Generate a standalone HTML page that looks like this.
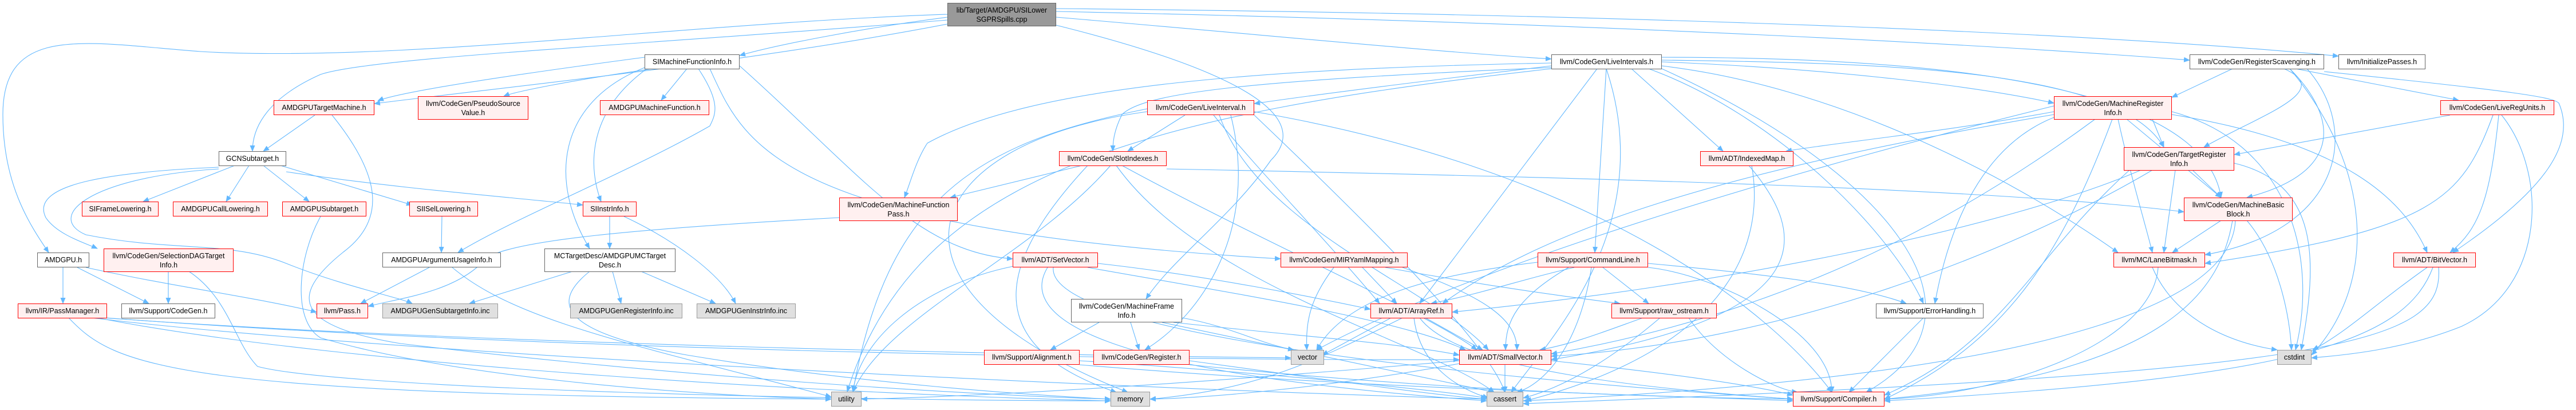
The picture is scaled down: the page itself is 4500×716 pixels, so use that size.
<!DOCTYPE html>
<html><head><meta charset="utf-8"><style>
body{margin:0;background:#fff;}
#c{position:relative;width:4500px;height:716px;overflow:hidden;background:#fff;font-family:"Liberation Sans",sans-serif;}
svg{position:absolute;left:0;top:0;}
.n{position:absolute;box-sizing:border-box;display:flex;align-items:center;justify-content:center;text-align:center;font-size:12.5px;line-height:16px;color:#000;white-space:nowrap;}
.r{border:1.5px solid #f00;background:#fff0f0;}
.w{border:1.5px solid #666;background:#fff;}
.g{border:1.5px solid #999;background:#e0e0e0;}
.m{border:1.5px solid #666;background:#999;}
</style></head><body><div id="c">
<svg width="4500" height="716" viewBox="0 0 4500 716">
<defs><marker id="a" markerWidth="11" markerHeight="9" refX="10" refY="4.5" orient="auto" markerUnits="userSpaceOnUse"><path d="M0,0 L11,4.5 L0,9z" fill="#63b8ff"/></marker></defs>
<g fill="none" stroke="#63b8ff" stroke-width="1.1" marker-end="url(#a)">
<path d="M1845,30 C2200,60 2500,90 2710,103"/>
<path d="M1845,20 C2800,40 3500,80 3825,105"/>
<path d="M1845,15 C2900,25 3700,60 4085,98"/>
<path d="M1845,44 C2150,120 2300,200 2220,280 C2150,380 2050,450 2002,522"/>
<path d="M1655,30 C1500,50 1350,80 1292,97"/>
<path d="M1655,35 C1100,80 650,100 560,130 C470,170 441,220 441,264"/>
<path d="M1655,25 C1200,40 700,110 350,90 C150,75 5,40 5,200 C5,320 50,390 85,441"/>
<path d="M1655,42 C1300,110 900,150 654,181"/>
<path d="M1126,100 C900,130 700,160 660,176"/>
<path d="M1140,120 C1000,140 900,160 880,168"/>
<path d="M1200,120 L1155,175"/>
<path d="M1130,120 C1020,200 1030,300 1050,352"/>
<path d="M1126,118 C970,180 960,320 1030,434"/>
<path d="M1220,120 C1260,180 1250,200 1240,220 C1100,300 900,380 800,441"/>
<path d="M1292,115 C1500,300 1600,440 1769,452"/>
<path d="M1240,120 C1300,250 1350,400 2237,452"/>
<path d="M410,289 L250,352"/>
<path d="M435,289 L395,352"/>
<path d="M460,289 L540,352"/>
<path d="M490,289 L720,358"/>
<path d="M500,300 C700,330 900,345 1018,358"/>
<path d="M382,292 C200,300 50,320 80,380 C100,410 150,425 170,434"/>
<path d="M382,295 C150,310 80,380 150,410 C300,440 400,420 500,460 C600,500 700,520 720,530"/>
<path d="M550,201 L460,264"/>
<path d="M580,201 C660,300 680,380 600,440 C500,520 520,570 700,600 C1200,660 1700,690 1940,697"/>
<path d="M560,378 C520,450 510,560 560,590 C800,660 1200,690 1452,697"/>
<path d="M110,467 L110,530"/>
<path d="M135,467 L260,530"/>
<path d="M150,467 C300,500 450,520 553,545"/>
<path d="M294,474 L294,530"/>
<path d="M330,474 C400,520 410,600 450,640 C600,680 1500,700 1940,700"/>
<path d="M772,378 L771,441"/>
<path d="M750,467 L630,530"/>
<path d="M790,467 C900,560 1100,600 1452,693"/>
<path d="M1065,378 L1065,434"/>
<path d="M1090,378 C1180,420 1260,480 1285,530"/>
<path d="M1466,380 C1100,400 900,420 850,450 C800,510 700,520 643,535"/>
<path d="M1000,474 L820,530"/>
<path d="M1070,474 L1085,530"/>
<path d="M1120,474 L1250,530"/>
<path d="M1030,474 C960,530 980,580 1200,620 C1500,670 1800,690 1940,697"/>
<path d="M120,555 C200,640 300,690 1452,697"/>
<path d="M160,555 C700,620 2000,680 2597,697"/>
<path d="M180,555 C800,600 1800,620 2255,625"/>
<path d="M185,555 C900,610 2000,630 2549,628"/>
<path d="M170,555 C600,640 1500,690 1940,700"/>
<path d="M2710,115 C2500,140 2300,165 2191,181"/>
<path d="M2710,118 C2200,140 2000,160 1960,200 C1945,230 1944,250 1944,264"/>
<path d="M2710,110 C2200,120 1800,150 1620,250 C1600,280 1590,320 1580,345"/>
<path d="M2790,120 L2480,530"/>
<path d="M2806,120 L2786,441"/>
<path d="M2903,115 C3200,150 3500,300 3700,441"/>
<path d="M2903,108 C3200,120 3450,150 3588,180"/>
<path d="M2903,105 C3300,110 3700,120 3780,257"/>
<path d="M2903,100 C3400,100 3850,150 3880,345"/>
<path d="M2850,120 L3010,264"/>
<path d="M2880,120 C3100,200 3300,400 3360,530"/>
<path d="M2710,120 C2000,200 1600,300 1480,684"/>
<path d="M2903,120 C3300,300 3500,550 3260,685"/>
<path d="M2806,120 C2900,400 2700,600 2640,685"/>
<path d="M2070,201 L1970,264"/>
<path d="M2120,201 C2200,300 2300,400 2410,530"/>
<path d="M2130,201 C2200,400 2500,500 2600,611"/>
<path d="M2004,195 C1600,250 1500,500 1970,685"/>
<path d="M2004,190 C1700,250 1550,350 1490,684"/>
<path d="M2191,201 C2400,400 2600,600 2629,685"/>
<path d="M2191,195 C2800,300 3100,550 3200,685"/>
<path d="M2150,201 C2200,400 2100,550 2000,611"/>
<path d="M1890,289 L1660,345"/>
<path d="M2038,295 C2800,310 3500,330 3815,370"/>
<path d="M1960,289 C2200,420 2500,550 2580,611"/>
<path d="M1900,289 C1750,450 1700,600 1950,685"/>
<path d="M1940,289 C1800,450 1550,550 1490,684"/>
<path d="M1950,289 C2100,500 2500,600 2610,685"/>
<path d="M1918,460 C2100,480 2300,520 2394,540"/>
<path d="M1900,467 C2200,520 2450,560 2560,611"/>
<path d="M1830,467 C1780,550 1900,650 2597,700"/>
<path d="M1840,467 C1830,560 2300,640 3132,697"/>
<path d="M1770,465 C1600,500 1500,600 1490,684"/>
<path d="M1920,563 L1835,611"/>
<path d="M1975,563 L1990,611"/>
<path d="M2050,563 C2300,590 2450,600 2549,620"/>
<path d="M2030,563 C2300,620 2500,660 2610,685"/>
<path d="M2065,555 C2150,570 2200,600 2260,611"/>
<path d="M1886,630 C2200,650 2500,680 2597,695"/>
<path d="M1886,637 C2400,680 2900,690 3132,700"/>
<path d="M2078,630 C2300,660 2500,690 2597,697"/>
<path d="M2078,637 C2600,690 3000,695 3132,697"/>
<path d="M2330,467 C2290,520 2280,560 2283,611"/>
<path d="M2380,467 L2440,530"/>
<path d="M2420,467 C2600,500 2750,520 2830,530"/>
<path d="M2450,467 C2600,520 2650,560 2650,611"/>
<path d="M2750,467 C2650,490 2600,510 2500,530"/>
<path d="M2800,467 L2880,530"/>
<path d="M2740,467 C2650,520 2630,560 2630,611"/>
<path d="M2780,467 C2760,600 2700,670 2650,685"/>
<path d="M2686,458 C2500,480 2350,520 2300,611"/>
<path d="M2879,460 C3100,480 3250,500 3330,530"/>
<path d="M2879,467 C3000,480 3200,580 3200,685"/>
<path d="M2430,555 L2310,620"/>
<path d="M2490,555 L2590,611"/>
<path d="M2470,555 C2480,640 2550,680 2600,695"/>
<path d="M2480,555 C2550,650 2900,680 3132,697"/>
<path d="M2450,555 C2300,630 2200,680 2009,697"/>
<path d="M2870,555 C2800,580 2750,600 2690,611"/>
<path d="M2900,555 C2800,640 2720,680 2661,695"/>
<path d="M2950,555 C3000,630 3100,680 3140,685"/>
<path d="M2629,637 L2629,685"/>
<path d="M2710,630 C2900,650 3050,670 3132,690"/>
<path d="M2549,630 C2200,660 1800,690 1505,697"/>
<path d="M2549,635 C2300,680 2100,695 2009,697"/>
<path d="M3060,289 C3080,400 3050,600 2665,700"/>
<path d="M3055,289 C3150,400 3200,550 2710,628"/>
<path d="M3360,555 L3230,685"/>
<path d="M3588,195 C3400,230 3200,250 3120,264"/>
<path d="M3588,205 C3450,260 3400,420 3380,530"/>
<path d="M3715,208 L3880,345"/>
<path d="M3760,208 L3780,257"/>
<path d="M3700,208 C3720,300 3750,400 3760,441"/>
<path d="M3588,200 C3000,300 2700,400 2520,530"/>
<path d="M3660,208 C3400,400 3100,550 2710,618"/>
<path d="M3794,200 C4100,250 4200,350 4240,441"/>
<path d="M3794,195 C4000,250 4050,450 4010,611"/>
<path d="M3690,208 C3600,450 3500,600 3292,697"/>
<path d="M3588,185 C3200,280 2600,450 2300,611"/>
<path d="M3830,297 L3880,345"/>
<path d="M3800,297 L3780,441"/>
<path d="M3903,285 C4050,320 4050,450 4020,611"/>
<path d="M3740,297 C3500,400 3000,500 2537,545"/>
<path d="M3760,297 C3500,450 3100,600 2710,622"/>
<path d="M3720,297 C3550,450 3500,600 3292,690"/>
<path d="M3900,120 L3794,170"/>
<path d="M3990,120 C4080,160 3950,200 3850,257"/>
<path d="M4000,120 C4080,200 4100,300 3925,345"/>
<path d="M4010,120 L4295,175"/>
<path d="M4060,125 C4400,160 4460,170 4470,180 C4500,250 4450,330 4285,441"/>
<path d="M4030,120 C4120,220 4100,400 3852,445"/>
<path d="M4000,120 C4150,300 4150,500 4038,620"/>
<path d="M4280,201 L3903,270"/>
<path d="M4355,201 C4300,350 4250,400 3852,460"/>
<path d="M4365,201 C4350,350 4330,400 4280,441"/>
<path d="M4370,201 C4450,300 4450,500 4300,570 C4200,610 4100,620 4038,625"/>
<path d="M3880,385 L3795,441"/>
<path d="M3925,385 C3980,450 4000,550 4003,611"/>
<path d="M3900,385 C3880,500 3800,650 3292,697"/>
<path d="M3905,385 C3900,500 3700,650 2661,700"/>
<path d="M3770,467 C3760,600 3500,690 3292,697"/>
<path d="M3760,467 C3800,560 3900,600 3978,611"/>
<path d="M4240,467 C4150,530 4100,580 4040,611"/>
<path d="M4250,467 C4200,600 4000,660 3292,700"/>
<path d="M4260,467 C4270,600 4100,650 2661,705"/>
</g></svg>
<div class="n m" style="left:1655px;top:5px;width:190px;height:41px">lib/Target/AMDGPU/SILower<br>SGPRSpills.cpp</div>
<div class="n w" style="left:65px;top:441px;width:91px;height:26px">AMDGPU.h</div>
<div class="n w" style="left:382px;top:264px;width:118px;height:26px">GCNSubtarget.h</div>
<div class="n r" style="left:478px;top:175px;width:176px;height:26px">AMDGPUTargetMachine.h</div>
<div class="n r" style="left:730px;top:168px;width:193px;height:41px">llvm/CodeGen/PseudoSource<br>Value.h</div>
<div class="n w" style="left:1126px;top:95px;width:166px;height:26px">SIMachineFunctionInfo.h</div>
<div class="n r" style="left:1048px;top:175px;width:191px;height:26px">AMDGPUMachineFunction.h</div>
<div class="n r" style="left:143px;top:352px;width:134px;height:26px">SIFrameLowering.h</div>
<div class="n r" style="left:302px;top:352px;width:166px;height:26px">AMDGPUCallLowering.h</div>
<div class="n r" style="left:493px;top:352px;width:147px;height:26px">AMDGPUSubtarget.h</div>
<div class="n r" style="left:715px;top:352px;width:120px;height:26px">SIISelLowering.h</div>
<div class="n r" style="left:1018px;top:352px;width:94px;height:26px">SIInstrInfo.h</div>
<div class="n r" style="left:181px;top:434px;width:227px;height:41px">llvm/CodeGen/SelectionDAGTarget<br>Info.h</div>
<div class="n w" style="left:668px;top:441px;width:207px;height:26px">AMDGPUArgumentUsageInfo.h</div>
<div class="n w" style="left:951px;top:434px;width:229px;height:41px">MCTargetDesc/AMDGPUMCTarget<br>Desc.h</div>
<div class="n r" style="left:31px;top:530px;width:156px;height:26px">llvm/IR/PassManager.h</div>
<div class="n w" style="left:212px;top:530px;width:164px;height:26px">llvm/Support/CodeGen.h</div>
<div class="n r" style="left:553px;top:530px;width:90px;height:26px">llvm/Pass.h</div>
<div class="n g" style="left:668px;top:530px;width:202px;height:26px">AMDGPUGenSubtargetInfo.inc</div>
<div class="n g" style="left:996px;top:530px;width:196px;height:26px">AMDGPUGenRegisterInfo.inc</div>
<div class="n g" style="left:1217px;top:530px;width:173px;height:26px">AMDGPUGenInstrInfo.inc</div>
<div class="n g" style="left:1452px;top:684px;width:53px;height:26px">utility</div>
<div class="n r" style="left:2004px;top:175px;width:187px;height:26px">llvm/CodeGen/LiveInterval.h</div>
<div class="n r" style="left:1850px;top:264px;width:188px;height:26px">llvm/CodeGen/SlotIndexes.h</div>
<div class="n r" style="left:1466px;top:345px;width:207px;height:41px">llvm/CodeGen/MachineFunction<br>Pass.h</div>
<div class="n r" style="left:1769px;top:441px;width:149px;height:26px">llvm/ADT/SetVector.h</div>
<div class="n w" style="left:1871px;top:522px;width:194px;height:41px">llvm/CodeGen/MachineFrame<br>Info.h</div>
<div class="n r" style="left:1719px;top:611px;width:167px;height:26px">llvm/Support/Alignment.h</div>
<div class="n r" style="left:1910px;top:611px;width:168px;height:26px">llvm/CodeGen/Register.h</div>
<div class="n g" style="left:1940px;top:684px;width:69px;height:26px">memory</div>
<div class="n r" style="left:2237px;top:441px;width:222px;height:26px">llvm/CodeGen/MIRYamlMapping.h</div>
<div class="n w" style="left:2710px;top:95px;width:193px;height:26px">llvm/CodeGen/LiveIntervals.h</div>
<div class="n r" style="left:2686px;top:441px;width:193px;height:26px">llvm/Support/CommandLine.h</div>
<div class="n r" style="left:2394px;top:530px;width:143px;height:26px">llvm/ADT/ArrayRef.h</div>
<div class="n r" style="left:2815px;top:530px;width:184px;height:26px">llvm/Support/raw_ostream.h</div>
<div class="n g" style="left:2255px;top:611px;width:58px;height:26px">vector</div>
<div class="n r" style="left:2549px;top:611px;width:161px;height:26px">llvm/ADT/SmallVector.h</div>
<div class="n g" style="left:2597px;top:684px;width:64px;height:26px">cassert</div>
<div class="n r" style="left:2970px;top:264px;width:163px;height:26px">llvm/ADT/IndexedMap.h</div>
<div class="n r" style="left:3588px;top:168px;width:206px;height:41px">llvm/CodeGen/MachineRegister<br>Info.h</div>
<div class="n w" style="left:3277px;top:530px;width:188px;height:26px">llvm/Support/ErrorHandling.h</div>
<div class="n r" style="left:3132px;top:684px;width:160px;height:26px">llvm/Support/Compiler.h</div>
<div class="n r" style="left:3710px;top:257px;width:193px;height:41px">llvm/CodeGen/TargetRegister<br>Info.h</div>
<div class="n r" style="left:3692px;top:441px;width:160px;height:26px">llvm/MC/LaneBitmask.h</div>
<div class="n w" style="left:3825px;top:95px;width:235px;height:26px">llvm/CodeGen/RegisterScavenging.h</div>
<div class="n w" style="left:4085px;top:95px;width:152px;height:26px">llvm/InitializePasses.h</div>
<div class="n r" style="left:4263px;top:175px;width:199px;height:26px">llvm/CodeGen/LiveRegUnits.h</div>
<div class="n r" style="left:3815px;top:345px;width:190px;height:41px">llvm/CodeGen/MachineBasic<br>Block.h</div>
<div class="n r" style="left:4181px;top:441px;width:144px;height:26px">llvm/ADT/BitVector.h</div>
<div class="n g" style="left:3978px;top:611px;width:60px;height:26px">cstdint</div>
</div></body></html>
